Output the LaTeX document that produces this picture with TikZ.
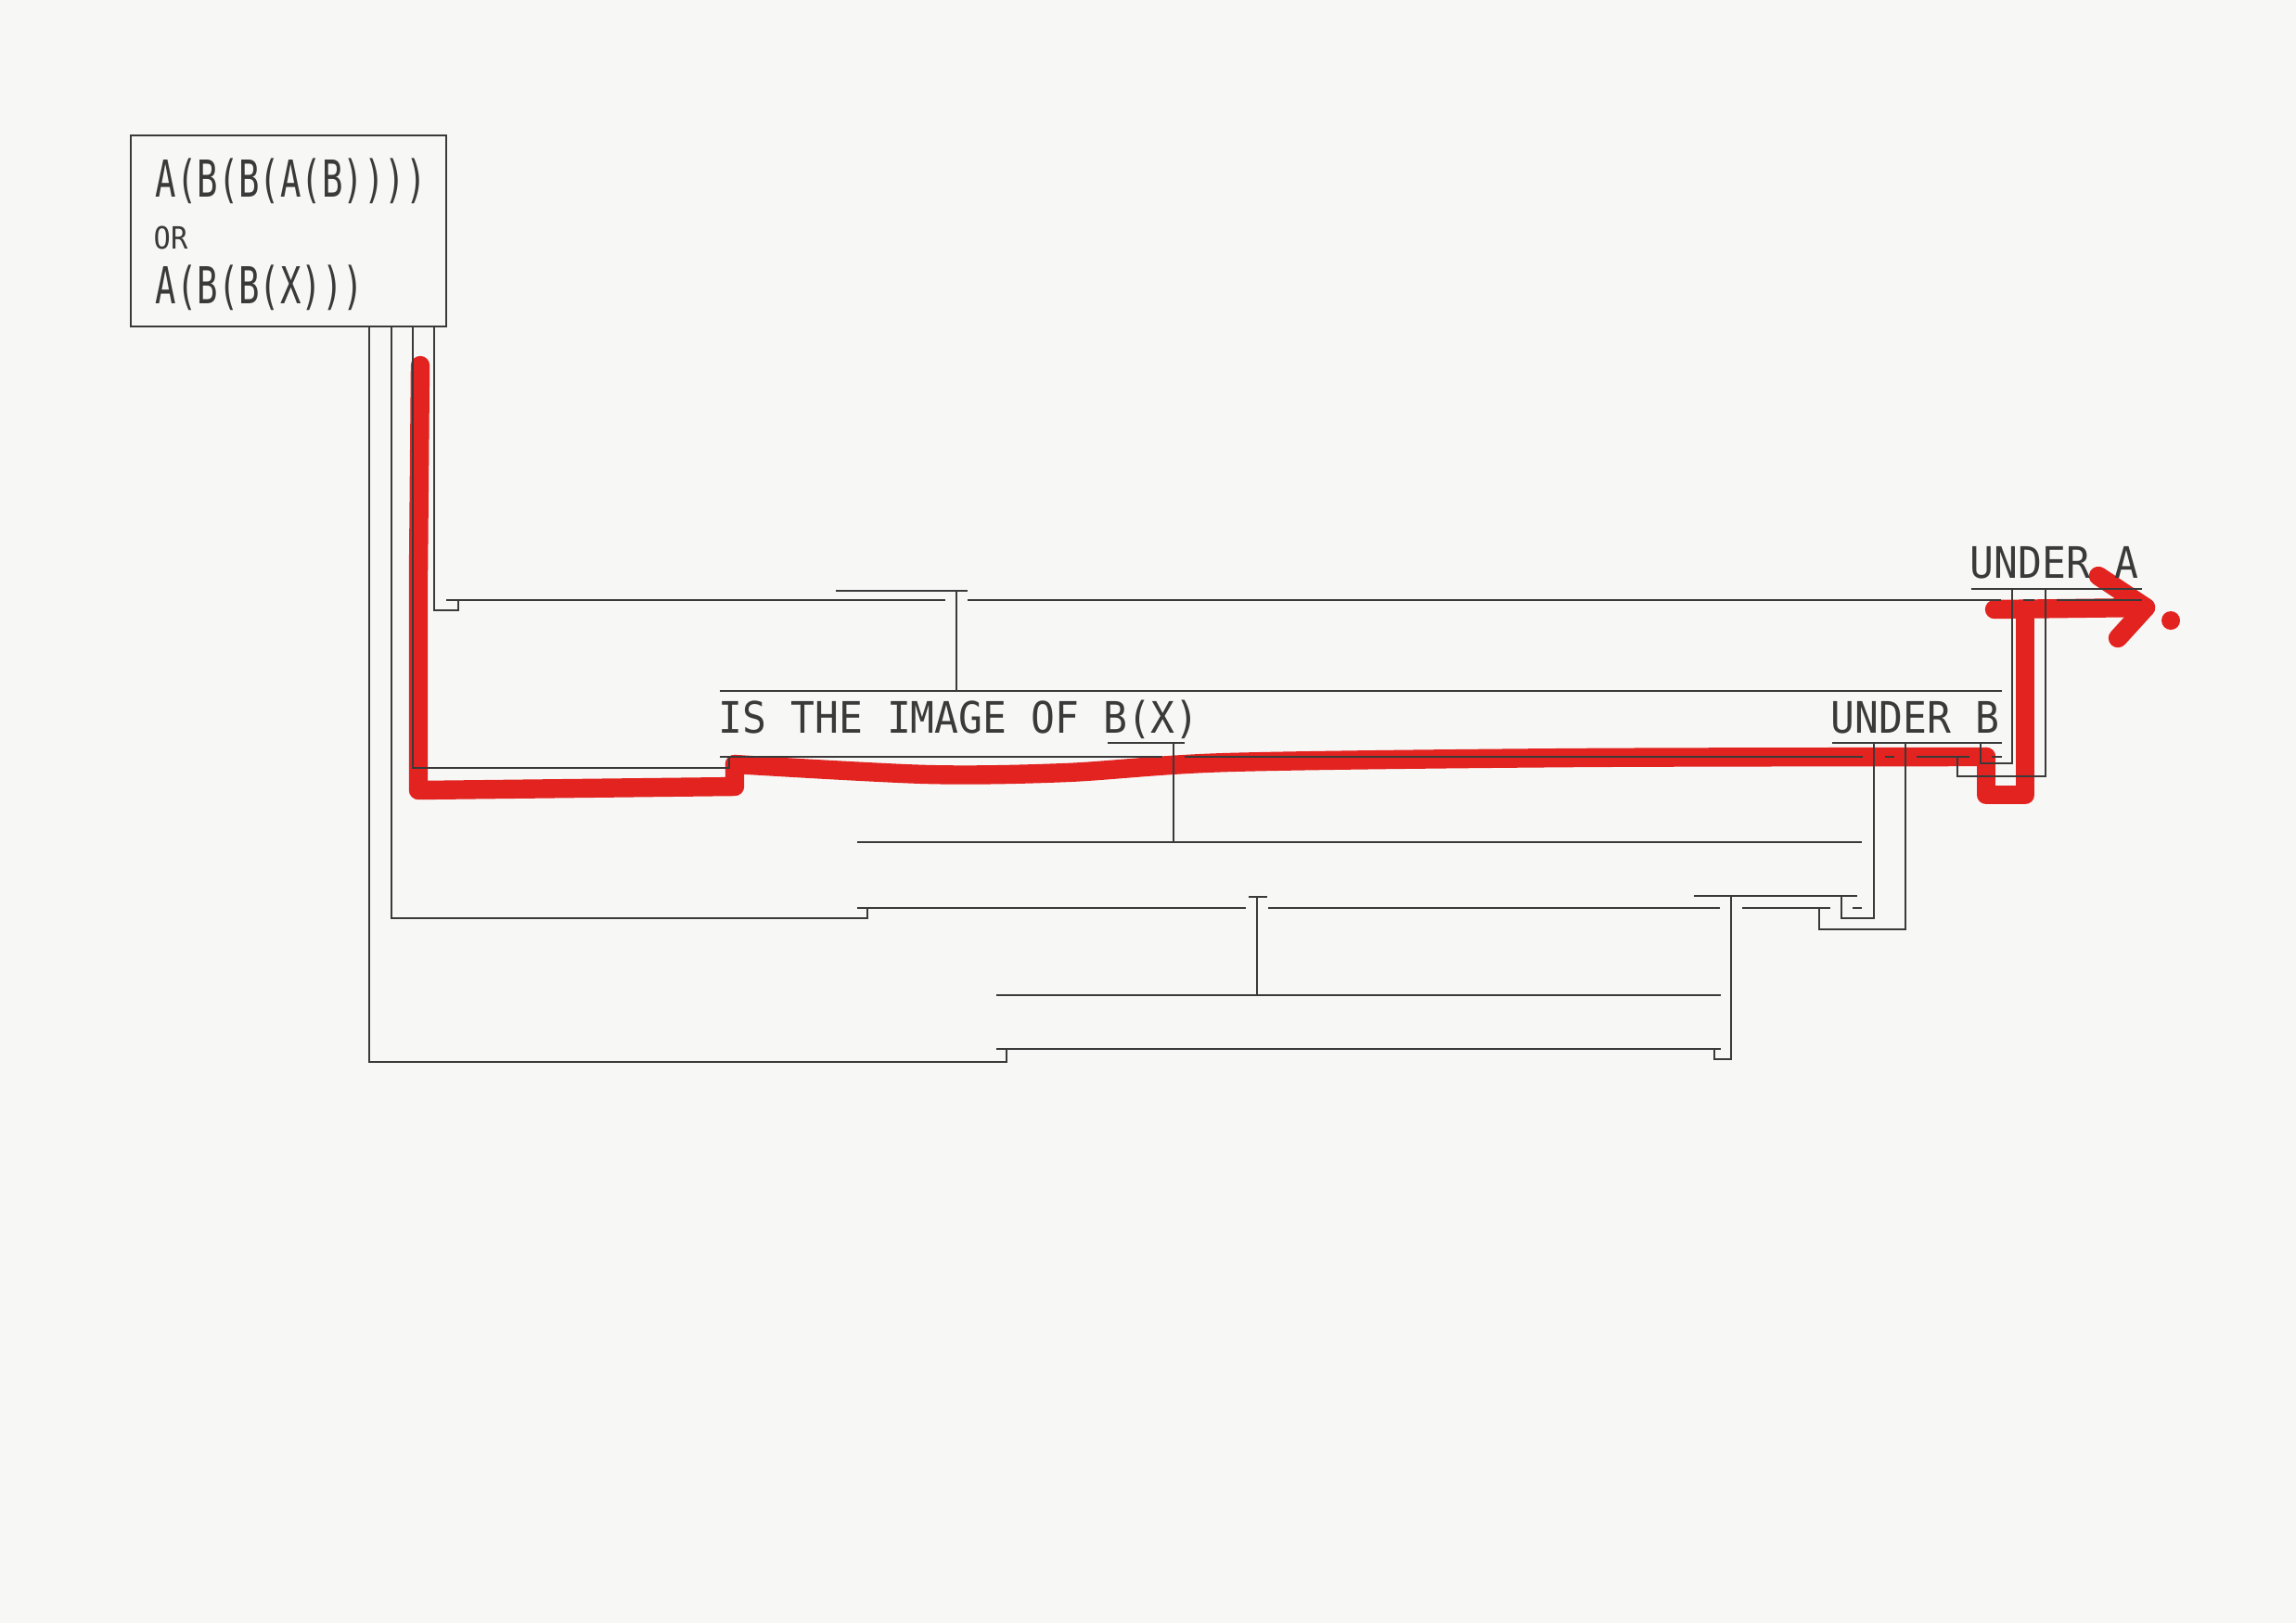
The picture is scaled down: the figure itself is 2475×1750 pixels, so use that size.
\documentclass[tikz,border=0pt]{standalone}
\usepackage{fontspec}
\newfontfamily\labelfont[FakeStretch=0.92]{DejaVu Sans Mono}
\newfontfamily\boxfont[FakeStretch=0.68]{DejaVu Sans Mono}
\definecolor{paper}{HTML}{F7F7F5}
\definecolor{ink}{HTML}{3A3A3A}
\definecolor{marker}{HTML}{E2231F}
\begin{document}
\begin{tikzpicture}[x=0.01cm,y=-0.01cm,
  wire/.style={draw=ink,line width=0.65pt},
  pen/.style={draw=marker,line width=5.8pt,line cap=round,line join=round},
  lab/.style={inner sep=0pt,anchor=base west,text=ink,font=\labelfont\fontsize{13.3pt}{15pt}\selectfont},
  boxtxt/.style={inner sep=0pt,anchor=base west,text=ink,font=\boxfont\fontsize{15.6pt}{17pt}\selectfont},
  smalltxt/.style={inner sep=0pt,anchor=base west,text=ink,font=\labelfont\fontsize{9.4pt}{10pt}\selectfont}]
\fill[paper] (0,0) rectangle (2475,1750);
\useasboundingbox (0,0) rectangle (2475,1750);

% ---------- red marker (under the ink) ----------
\draw[pen] (453,394) -- (451,620) -- (451,852) -- (792,848) -- (792,824);
\draw[pen] plot[smooth] coordinates {(792,824) (1000,835) (1150,833) (1324,822) (1700,817) (2141,816)};
\draw[pen] (2141,816) -- (2141,857) -- (2183,857) -- (2183,657);
\draw[pen] (2150,657) -- (2313,655);
\draw[pen] (2262,621) -- (2313,655) -- (2283,688);
\fill[marker] (2340,669) circle (0.1cm);

% ---------- box and texts ----------
\node[draw=ink,line width=0.65pt,minimum width=3.4cm,minimum height=2.06cm,anchor=north west,inner sep=0pt] (box) at (140,145) {};
\node[boxtxt] (t1) at (167,212) {A(B(B(A(B))))};
\node[smalltxt] (tor) at (165,268) {OR};
\node[boxtxt] (t3) at (167,327) {A(B(B(X)))};
\node[lab] (image) at (774,790) {IS THE IMAGE OF B(X)};
\node[lab] (underb) at (1973,790) {UNDER B};
\node[lab] (undera) at (2123,623) {UNDER A};

% ---------- coordinates ----------
\coordinate (v1) at (398,351);
\coordinate (v2) at (422,351);
\coordinate (v3) at (445,351);
\coordinate (v4) at (468,351);

% ---------- horizontal lines (gaps at crossings) ----------
% L1
\draw[wire] (481,647) -- (1019,647) (1043,647) -- (2157,647) (2181,647) -- (2193,647) (2217,647) -- (2309,647);
% UNDER A underline and S1
\draw[wire] (2125,635) -- (2309,635);
\draw[wire] (901,637) -- (1043,637);
% L2
\draw[wire] (776,745) -- (2158,745);
% underlines of B(X) and UNDER B
\draw[wire] (1194,801) -- (1277,801);
\draw[wire] (1975,801) -- (2158,801);
% L3
\draw[wire] (776,816) -- (1253,816) (1277,816) -- (2008,816) (2032,816) -- (2042,816) (2066,816) -- (2123,816) (2147,816) -- (2158,816);
% L4
\draw[wire] (924,908) -- (2007,908);
% S5, S6
\draw[wire] (1826,966) -- (2002,966);
\draw[wire] (1346,967) -- (1366,967);
% L5
\draw[wire] (924,979) -- (1343,979) (1367,979) -- (1854,979) (1878,979) -- (1973,979) (1997,979) -- (2007,979);
% L6, L7
\draw[wire] (1074,1073) -- (1855,1073);
\draw[wire] (1074,1131) -- (1855,1131);

% ---------- verticals ----------
\draw[wire] (v4) -- (468,658) -- (494,658) -- (494,647);
\draw[wire] (v3) -- (445,828) -- (786,828) -- (786,816);
\draw[wire] (v2) -- (422,990) -- (935,990) -- (935,979);
\draw[wire] (v1) -- (398,1145) -- (1085,1145) -- (1085,1131);

\draw[wire] (1031,637) -- (1031,745);
\draw[wire] (1265,801) -- (1265,908);
\draw[wire] (1355,967) -- (1355,1073);
\draw[wire] (1866,966) -- (1866,1142) -- (1848,1142) -- (1848,1131);

\draw[wire] (2169,635) -- (2169,823) -- (2135,823) -- (2135,801);
\draw[wire] (2205,635) -- (2205,837) -- (2110,837) -- (2110,816);
\draw[wire] (2020,801) -- (2020,990) -- (1985,990) -- (1985,966);
\draw[wire] (2054,801) -- (2054,1002) -- (1961,1002) -- (1961,979);
\end{tikzpicture}
\end{document}
